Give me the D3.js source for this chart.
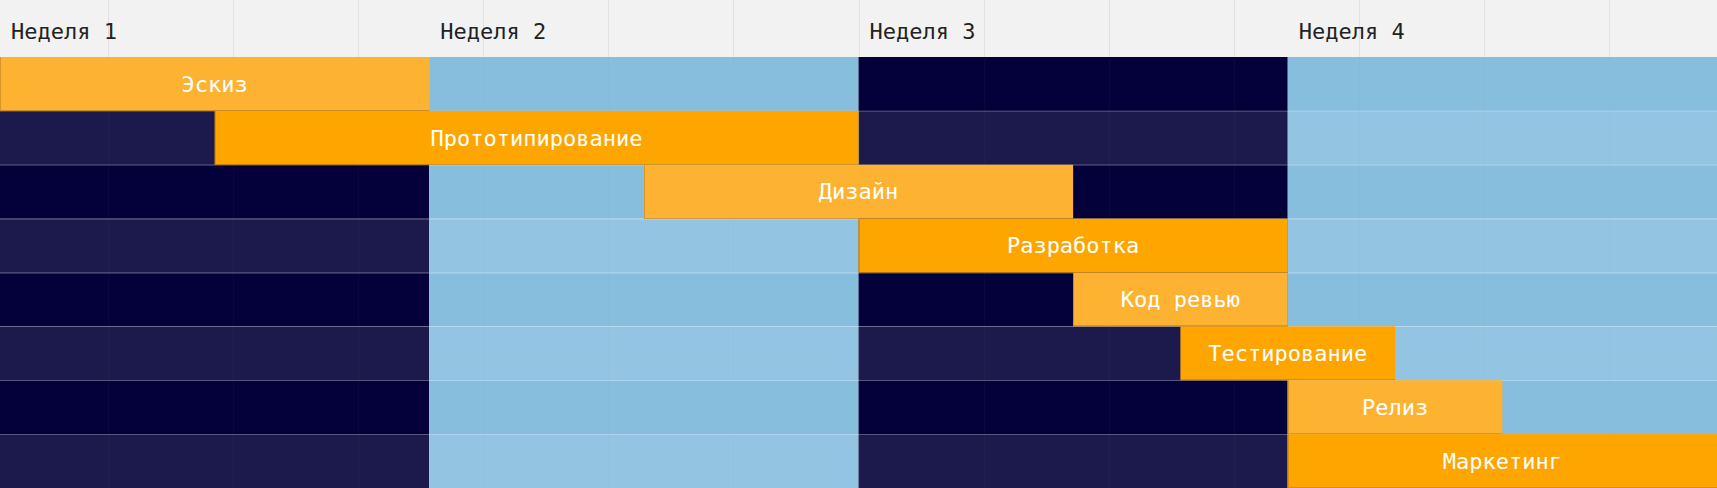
<!DOCTYPE html>
<html>
<head>
<meta charset="utf-8">
<script src="https://cdn.jsdelivr.net/npm/d3@7"></script>
<style>
  html, body { margin: 0; padding: 0; background: #ffffff; }
  svg { display: block; }
</style>
</head>
<body>
<div id="chart"></div>
<script>
// ---- data (days) ----
const weekLabels = ["Неделя 1", "Неделя 2", "Неделя 3", "Неделя 4"];
const weekStarts = [0, 7, 14, 21];
const taskNames  = ["Эскиз", "Прототипирование", "Дизайн", "Разработка", "Код ревью", "Тестирование", "Релиз", "Маркетинг"];
const taskStarts = [0, 3.5, 10.5, 14, 17.5, 19.25, 21, 21];
const taskEnds   = [7, 14, 17.5, 21, 21, 22.75, 24.5, 28];
const gridTicks  = [1.76, 3.8, 5.84, 7.88, 9.92, 11.96, 14, 16.04, 18.08, 20.12, 22.16, 24.2, 26.24];

const W = 1717, H = 488, headerH = 57;
const svg = d3.select("#chart").append("svg").attr("width", W).attr("height", H);

const x = d3.scaleLinear().domain([0, 28]).range([0, W]);
const y = d3.scaleBand().domain(taskNames).range([headerH, H]).padding(0);

const weekFill = [
  ["#04003a", "#1c1a4c"],
  ["#88bedd", "#93c4e1"],
  ["#04003a", "#1c1a4c"],
  ["#88bedd", "#93c4e1"]
];
const barFill = ["#fdb331", "#ffa500"];
const font = "'DejaVu Sans Mono', 'Liberation Mono', monospace";

// header
svg.append("rect").attr("x", 0).attr("y", 0).attr("width", W).attr("height", headerH).attr("fill", "#f2f2f2");

// background cells
const cells = [];
taskNames.forEach((t, ri) => weekStarts.forEach((ws, wi) => cells.push({t, ri, ws, wi})));
svg.append("g").selectAll("rect").data(cells).join("rect")
  .attr("x", d => x(d.ws))
  .attr("y", d => y(d.t))
  .attr("width", x(7) - x(0))
  .attr("height", y.bandwidth())
  .attr("fill", d => weekFill[d.wi][d.ri % 2]);

// grid lines
svg.append("g").selectAll("line").data(gridTicks).join("line")
  .attr("x1", d => Math.round(x(d)) + 0.5).attr("x2", d => Math.round(x(d)) + 0.5)
  .attr("y1", 0).attr("y2", headerH)
  .attr("stroke", "#e1e1e1").attr("stroke-width", 1);
svg.append("g").selectAll("line").data(gridTicks).join("line")
  .attr("x1", d => Math.round(x(d)) + 0.5).attr("x2", d => Math.round(x(d)) + 0.5)
  .attr("y1", headerH).attr("y2", H)
  .attr("stroke", "#808080").attr("stroke-opacity", 0.05).attr("stroke-width", 1);

// row separators
svg.append("g").selectAll("line").data(taskNames.slice(1)).join("line")
  .attr("x1", 0).attr("x2", W)
  .attr("y1", d => Math.round(y(d)) + 0.5).attr("y2", d => Math.round(y(d)) + 0.5)
  .attr("stroke", "#ffffff").attr("stroke-opacity", 0.18);

// week labels
svg.append("g").selectAll("text").data(weekLabels).join("text")
  .attr("x", (d, i) => x(weekStarts[i]) + 11)
  .attr("y", 38.5)
  .attr("font-family", font).attr("font-size", 22)
  .attr("fill", "#222222")
  .text(d => d);

// task bars
const tasks = taskNames.map((n, i) => ({n, i, s: taskStarts[i], e: taskEnds[i]}));
const bars = svg.append("g");
bars.selectAll("rect").data(tasks).join("rect")
  .attr("x", d => x(d.s))
  .attr("y", d => y(d.n))
  .attr("width", d => x(d.e) - x(d.s))
  .attr("height", y.bandwidth())
  .attr("fill", d => barFill[d.i % 2]);

// subtle left and bottom edges
bars.selectAll("path").data(tasks).join("path")
  .attr("d", d => {
    const x0 = Math.round(x(d.s)) + 0.5, x1 = x(d.e);
    const y0 = y(d.n), y1 = Math.round(y(d.n) + y.bandwidth()) - 0.5;
    return `M${x0},${y0}V${y1}H${x1}`;
  })
  .attr("fill", "none")
  .attr("stroke", "#a8741e").attr("stroke-opacity", 0.45).attr("stroke-width", 1);

bars.selectAll("text").data(tasks).join("text")
  .attr("x", d => (x(d.s) + x(d.e)) / 2)
  .attr("y", d => y(d.n) + y.bandwidth() / 2)
  .attr("dy", "0.35em")
  .attr("text-anchor", "middle")
  .attr("font-family", font).attr("font-size", 22)
  .attr("fill", "#ffffff")
  .text(d => d.n);
</script>
</body>
</html>
